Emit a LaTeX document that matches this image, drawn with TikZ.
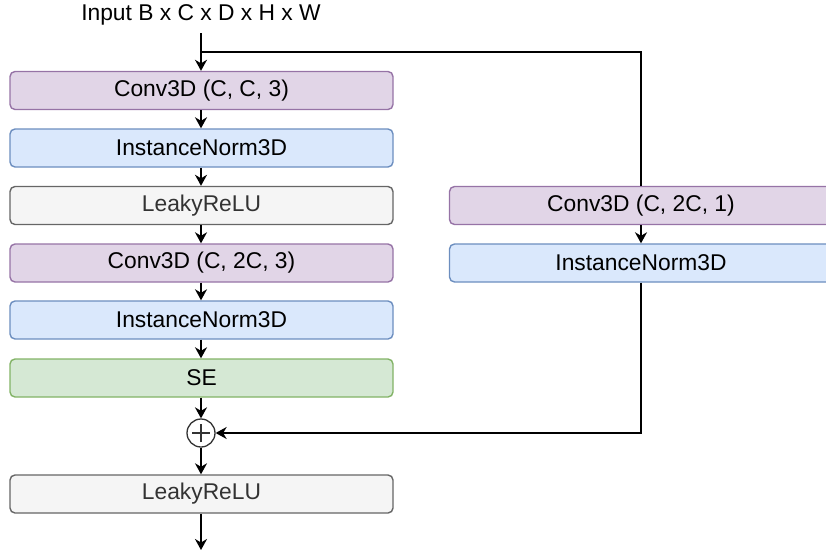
\documentclass[tikz,border=0pt]{standalone}
\usepackage{fontspec}
\setmainfont{Liberation Sans}
\usetikzlibrary{arrows.meta}
\definecolor{purpF}{HTML}{E1D5E7}\definecolor{purpD}{HTML}{9673A6}
\definecolor{blueF}{HTML}{DAE8FC}\definecolor{blueD}{HTML}{6C8EBF}
\definecolor{greyF}{HTML}{F5F5F5}\definecolor{greyD}{HTML}{666666}\definecolor{greyT}{HTML}{333333}
\definecolor{greenF}{HTML}{D5E8D4}\definecolor{greenD}{HTML}{82B366}
\tikzset{
  blk/.style={rectangle, rounded corners=5pt, minimum width=383pt, minimum height=38pt, inner sep=0pt, line width=1.4pt, font=\fontsize{22.8}{26}\selectfont},
  conv/.style={blk, fill=purpF, draw=purpD},
  norm/.style={blk, fill=blueF, draw=blueD},
  relu/.style={blk, fill=greyF, draw=greyD, text=greyT},
  sebox/.style={blk, fill=greenF, draw=greenD},
  arr/.style={line width=1.6pt, -{Stealth[length=11pt,width=12pt,inset=3.5pt]}},
  ln/.style={line width=1.6pt},
}
\begin{document}
\begin{tikzpicture}[x=1pt,y=-1pt]
\useasboundingbox (0,0) rectangle (826,554);
\node[font=\fontsize{22.8}{26}\selectfont] (in) at (201,15) {Input B x C x D x H x W};
\coordinate (start) at (201,33);
\coordinate (br) at (201,52);
\coordinate (brR) at (641,52);
\node[conv] (c1) at (201.5,90.5) {Conv3D (C, C, 3)};
\node[norm] (n1) at (201.5,148) {InstanceNorm3D};
\node[relu] (l1) at (201.5,205.5) {LeakyReLU};
\node[conv] (c2) at (201.5,263) {Conv3D (C, 2C, 3)};
\node[norm] (n2) at (201.5,320) {InstanceNorm3D};
\node[sebox] (se) at (201.5,378) {SE};
\node[circle, draw=greyT, line width=1.3pt, minimum size=28pt, inner sep=0pt, fill=white,
  path picture={\draw[greyT, line width=1.3pt] ([xshift=-9pt]path picture bounding box.center) -- ([xshift=9pt]path picture bounding box.center)
  ([yshift=-9pt]path picture bounding box.center) -- ([yshift=9pt]path picture bounding box.center);}] (plus) at (201,433) {};
\node[relu] (l2) at (201.5,494) {LeakyReLU};
\coordinate (out) at (201,550);
\node[conv] (rc) at (641,205.5) {Conv3D (C, 2C, 1)};
\node[norm] (rn) at (641,263) {InstanceNorm3D};
\coordinate (corner) at (641,433);

\draw[arr] (start) -- (c1.north -| start);
\draw[ln] (br) -- (brR) -- (rc.north -| brR);
\draw[arr] (c1.south -| start) -- (n1.north -| start);
\draw[arr] (n1.south -| start) -- (l1.north -| start);
\draw[arr] (l1.south -| start) -- (c2.north -| start);
\draw[arr] (c2.south -| start) -- (n2.north -| start);
\draw[arr] (n2.south -| start) -- (se.north -| start);
\draw[arr] (se.south -| start) -- (plus.north);
\draw[arr] (plus.south) -- (l2.north -| start);
\draw[arr] (l2.south -| start) -- (out);
\draw[arr] (rc.south -| brR) -- (rn.north -| brR);
\draw[arr] (rn.south -| brR) -- (corner) -- (plus.east);
\end{tikzpicture}
\end{document}
